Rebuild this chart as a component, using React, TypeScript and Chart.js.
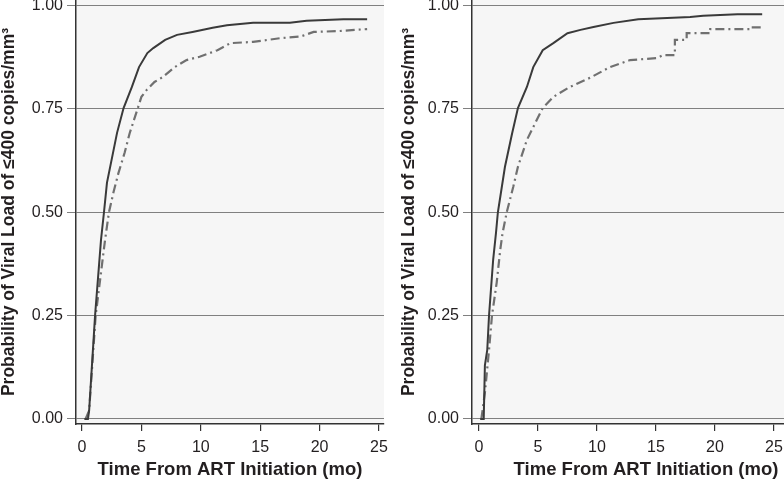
import React, { useEffect, useRef } from "react";
import { Chart, registerables } from "chart.js";

Chart.register(...registerables);

// ---- data ----
const xTickValues = [0, 5, 10, 15, 20, 25];
const yTickValues = [0, 0.25, 0.5, 0.75, 1];
const xTitle = "Time From ART Initiation (mo)";
const yTitle = "Probability of Viral Load of \u2264400 copies/mm\u00B3";

// Left panel
const leftSolidT = [0.2, 0.5, 0.6, 1.1, 1.6, 1.85, 2.1, 2.95, 3.5, 4.2, 4.8, 5.5, 6.0, 7.0, 8.0, 9.3, 11.0, 12.2, 14.4, 17.5, 18.9, 22.0, 24.0];
const leftSolidP = [0, 0, 0.02, 0.25, 0.433, 0.5, 0.571, 0.692, 0.752, 0.803, 0.851, 0.885, 0.897, 0.917, 0.929, 0.936, 0.946, 0.952, 0.958, 0.958, 0.963, 0.967, 0.967];
const leftDashT = [0.3, 0.6, 1.15, 1.94, 2.27, 2.64, 3.06, 3.6, 4.0, 4.7, 5.0, 5.45, 6.1, 6.8, 7.8, 8.8, 9.9, 11.4, 12.5, 14.4, 16.7, 18.4, 19.5, 21.5, 24.0];
const leftDashP = [0, 0.02, 0.25, 0.433, 0.5, 0.547, 0.594, 0.645, 0.69, 0.752, 0.779, 0.796, 0.815, 0.827, 0.851, 0.868, 0.876, 0.892, 0.909, 0.912, 0.921, 0.925, 0.936, 0.938, 0.943];

// Right panel
const rightSolidT = [0.1, 0.4, 0.5, 0.7, 0.85, 1.2, 1.44, 1.6, 2.2, 2.8, 3.3, 4.06, 4.6, 5.4, 6.3, 7.5, 8.6, 9.7, 11.4, 13.5, 17.9, 19.0, 21.9, 24.0];
const rightSolidP = [0, 0, 0.13, 0.167, 0.25, 0.385, 0.45, 0.5, 0.61, 0.69, 0.752, 0.803, 0.851, 0.892, 0.909, 0.933, 0.941, 0.948, 0.958, 0.967, 0.972, 0.975, 0.979, 0.979];
const rightDashT = [0.2, 0.5, 0.85, 1.1, 1.5, 1.8, 2.0, 2.35, 2.9, 3.3, 4.06, 5.4, 6.3, 7.7, 9.4, 11.1, 12.8, 15.1, 15.6, 16.6, 16.6, 17.6, 17.6, 19.6, 19.6, 23.0, 23.0, 24.0];
const rightDashP = [0, 0.063, 0.167, 0.25, 0.33, 0.409, 0.45, 0.5, 0.561, 0.61, 0.675, 0.752, 0.779, 0.803, 0.825, 0.851, 0.868, 0.873, 0.88, 0.88, 0.917, 0.917, 0.933, 0.933, 0.943, 0.943, 0.947, 0.947];

const FONT = "'Liberation Sans', Arial, Helvetica, sans-serif";
const TEXT = "#231f20";

const plotBg = {
  id: "plotBg",
  beforeDraw(chart: any) {
    const { ctx, chartArea } = chart;
    ctx.save();
    ctx.fillStyle = "#f6f6f6";
    ctx.fillRect(chartArea.left, chartArea.top, chartArea.right - chartArea.left, chartArea.bottom - chartArea.top);
    ctx.restore();
  },
};

function toPts(t: number[], p: number[]) {
  return t.map((x, i) => ({ x, y: p[i] }));
}

type PanelProps = {
  left: number;
  width: number;
  yAxisWidth: number;
  padRight: number;
  xMin: number;
  xMax: number;
  yTitleOffset: number;
  solidT: number[];
  solidP: number[];
  dashT: number[];
  dashP: number[];
};

function zeroPad(s: any) {
  s.paddingTop = 0;
  s.paddingBottom = 0;
  s.paddingLeft = 0;
  s.paddingRight = 0;
}

function Panel(props: PanelProps) {
  const ref = useRef<HTMLCanvasElement | null>(null);
  useEffect(() => {
    if (!ref.current) return;
    const chart = new Chart(ref.current, {
      type: "line",
      data: {
        datasets: [
          {
            data: toPts(props.solidT, props.solidP),
            borderColor: "#3a3a3a",
            borderWidth: 2,
            pointRadius: 0,
            tension: 0,
            fill: false,
          },
          {
            data: toPts(props.dashT, props.dashP),
            borderColor: "#707070",
            borderWidth: 2.2,
            borderDash: [9, 4, 2, 4],
            pointRadius: 0,
            tension: 0,
            fill: false,
          },
        ],
      },
      options: {
        responsive: false,
        animation: false,
        events: [],
        layout: { autoPadding: false, padding: { left: 0, right: props.padRight, top: 0, bottom: 0 } },
        plugins: { legend: { display: false }, tooltip: { enabled: false } },
        scales: {
          x: {
            type: "linear",
            min: props.xMin,
            max: props.xMax,
            afterBuildTicks: (s: any) => {
              s.ticks = xTickValues.map((v) => ({ value: v }));
            },
            afterFit: (s: any) => {
              s.height = 59;
              zeroPad(s);
            },
            grid: { display: true, drawOnChartArea: false, drawTicks: true, tickLength: 7, color: "#333", lineWidth: 1.2 },
            border: { display: true, color: "#333", width: 1.5 },
            ticks: {
              color: TEXT,
              font: { family: FONT, size: 16 },
              padding: 7,
              maxRotation: 0,
              autoSkip: false,
              callback: (v: any) => String(v),
            },
            title: {
              display: true,
              text: xTitle,
              color: TEXT,
              font: { family: FONT, size: 18.5, weight: "bold", lineHeight: 1 },
              padding: { top: 0, bottom: 4 },
            },
          },
          y: {
            type: "linear",
            min: -0.0121,
            max: 1.0133,
            afterBuildTicks: (s: any) => {
              s.ticks = yTickValues.map((v) => ({ value: v }));
            },
            afterFit: (s: any) => {
              s.width = props.yAxisWidth;
              zeroPad(s);
            },
            grid: { display: true, drawOnChartArea: true, drawTicks: true, tickLength: 9, color: "#808080", lineWidth: 1 },
            border: { display: true, color: "#333", width: 1.5 },
            ticks: {
              color: TEXT,
              font: { family: FONT, size: 16 },
              padding: 4,
              autoSkip: false,
              callback: (v: any) => Number(v).toFixed(2),
            },
            title: {
              display: true,
              text: yTitle,
              color: TEXT,
              font: { family: FONT, size: 17.5, weight: "bold", lineHeight: 1 },
              padding: { top: props.yTitleOffset, bottom: 0 },
            },
          },
        },
      } as any,
      plugins: [plotBg],
    });
    return () => chart.destroy();
  }, []);
  return (
    <canvas
      ref={ref}
      width={props.width}
      height={483}
      style={{ position: "absolute", left: props.left, top: 0, width: props.width, height: 483, display: "block" }}
    />
  );
}

export default function App() {
  return (
    <div style={{ position: "absolute", left: 0, top: 0, width: 784, height: 483, overflow: "hidden", background: "#fff" }}>
      <Panel
        left={0}
        width={390}
        yAxisWidth={76}
        padRight={6}
        xMin={-0.505}
        xMax={25.42}
        yTitleOffset={0}
        solidT={leftSolidT}
        solidP={leftSolidP}
        dashT={leftDashT}
        dashP={leftDashP}
      />
      <Panel
        left={390}
        width={430}
        yAxisWidth={82}
        padRight={0}
        xMin={-0.593}
        xMax={28.9}
        yTitleOffset={10}
        solidT={rightSolidT}
        solidP={rightSolidP}
        dashT={rightDashT}
        dashP={rightDashP}
      />
    </div>
  );
}
